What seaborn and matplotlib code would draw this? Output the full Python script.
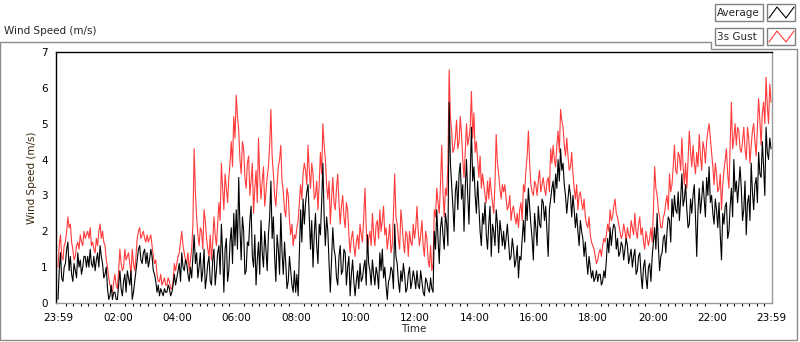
import numpy as np
import pandas as pd
import seaborn as sns
import matplotlib.pyplot as plt
from matplotlib.lines import Line2D
from matplotlib.patches import Rectangle

# valori: un campione ogni 5 minuti a partire dalle 23:59 (una riga = un'ora)
raffica = [
    1.0, 1.9, 1.2, 1.7, 2.4, 2.2, 1.5, 1.3, 1.7, 1.9, 1.6, 1.8,
    2.0, 2.1, 1.7, 1.4, 1.6, 2.2, 2.0, 1.6, 1.0, 0.5, 0.3, 0.8,
    0.4, 1.5, 0.9, 1.5, 1.3, 1.1, 1.5, 0.9, 1.8, 2.1, 1.9, 1.8,
    1.9, 1.8, 1.6, 1.1, 0.8, 0.6, 0.5, 0.7, 0.5, 0.6, 0.4, 1.1,
    1.1, 1.4, 2.0, 1.4, 1.1, 0.9, 1.5, 4.3, 2.4, 1.6, 2.0, 2.6,
    1.8, 1.3, 1.2, 2.4, 1.6, 2.8, 3.9, 2.6, 3.2, 3.5, 4.5, 5.2,
    5.8, 4.8, 3.6, 4.3, 3.2, 4.1, 3.4, 2.5, 3.7, 4.6, 2.9, 3.8,
    3.1, 3.8, 5.4, 3.6, 2.7, 3.8, 4.4, 3.1, 2.4, 3.0, 1.9, 1.6,
    1.8, 2.3, 3.3, 3.6, 3.7, 4.4, 3.2, 3.6, 3.0, 2.6, 4.2, 5.0,
    4.0, 2.9, 2.2, 3.5, 2.6, 3.6, 2.2, 3.0, 2.1, 2.6, 1.4, 2.0,
    1.3, 1.9, 2.2, 1.7, 3.2, 1.5, 2.0, 2.5, 1.6, 2.3, 2.6, 2.3,
    1.9, 1.5, 2.2, 1.6, 3.6, 2.2, 1.5, 2.2, 1.4, 1.9, 2.0, 1.6,
    1.8, 2.7, 1.6, 2.3, 1.3, 1.8, 1.0, 0.9, 2.6, 3.2, 2.5, 4.4,
    2.4, 3.0, 6.5, 4.8, 4.3, 5.1, 4.5, 4.7, 3.5, 5.0, 4.6, 5.9,
    5.3, 4.5, 3.5, 3.2, 3.3, 2.8, 2.9, 3.1, 2.5, 4.7, 3.6, 2.9,
    3.1, 2.9, 2.7, 2.3, 2.7, 2.2, 2.1, 2.8, 3.3, 3.7, 4.8, 3.3,
    3.0, 3.3, 3.4, 3.1, 3.5, 3.0, 3.5, 4.3, 4.4, 3.8, 4.8, 5.4,
    4.9, 4.1, 4.1, 3.8, 3.6, 2.9, 2.6, 3.1, 2.6, 2.4, 2.1, 1.9,
    1.6, 1.3, 1.2, 1.5, 1.6, 1.7, 2.2, 2.6, 2.4, 2.9, 2.4, 2.0,
    1.9, 2.0, 2.1, 1.8, 2.1, 2.5, 1.8, 2.4, 2.1, 1.5, 1.8, 1.8,
    1.7, 3.8, 3.0, 2.4, 2.1, 2.5, 3.0, 3.6, 3.3, 4.4, 3.6, 4.1,
    4.6, 3.3, 3.2, 4.8, 3.8, 3.9, 4.2, 4.7, 3.7, 4.3, 4.5, 5.0,
    4.2, 3.3, 3.6, 3.2, 2.6, 3.7, 4.3, 3.2, 5.6, 4.6, 4.4, 4.8,
    4.2, 4.9, 4.0, 4.6, 4.4, 5.0, 4.1, 5.7, 4.4, 5.6, 6.3, 5.0,
    5.6,
]

# campioni intermedi (2.5 minuti dopo ciascun campione sopra)
raffica_mezzo = [
    1.6, 1.3, 1.6, 2.0, 2.1, 1.7, 1.2, 1.6, 1.5, 1.7, 2.0, 1.9,
    1.8, 1.6, 1.5, 1.8, 2.0, 1.8, 1.7, 1.2, 0.7, 0.4, 0.6, 0.5,
    0.9, 1.1, 1.0, 1.2, 1.4, 0.8, 1.1, 1.3, 2.0, 1.8, 2.0, 1.7,
    1.7, 1.9, 1.3, 1.2, 0.6, 0.8, 0.6, 0.5, 0.7, 0.4, 0.6, 0.9,
    1.3, 1.7, 1.6, 1.2, 1.4, 1.2, 2.2, 3.1, 1.9, 2.1, 1.5, 2.3,
    1.5, 1.9, 1.7, 1.9, 2.2, 2.3, 3.2, 3.6, 2.8, 3.9, 3.8, 4.6,
    5.2, 4.0, 4.5, 3.5, 3.9, 3.0, 3.9, 3.2, 2.8, 3.5, 3.4, 2.7,
    3.5, 4.4, 4.1, 3.0, 3.3, 4.0, 3.4, 2.6, 3.2, 2.3, 2.2, 1.9,
    2.1, 2.8, 2.9, 3.9, 3.3, 3.7, 3.9, 2.9, 3.4, 3.3, 3.6, 4.4,
    3.3, 3.4, 2.9, 2.8, 3.2, 2.8, 2.7, 2.4, 2.8, 1.9, 1.8, 1.6,
    1.7, 1.5, 1.9, 2.4, 2.1, 1.8, 1.6, 1.9, 2.2, 1.8, 2.0, 2.7,
    2.1, 1.8, 1.4, 2.5, 2.4, 1.8, 2.6, 1.7, 2.0, 1.3, 1.7, 2.2,
    2.1, 2.0, 1.9, 1.6, 2.0, 1.2, 1.6, 1.1, 2.4, 2.8, 3.3, 3.1,
    3.2, 3.9, 5.2, 4.2, 4.6, 4.3, 5.2, 4.0, 4.2, 4.4, 4.9, 4.6,
    4.2, 4.0, 4.1, 3.6, 3.0, 3.4, 3.5, 2.8, 3.3, 3.9, 3.2, 3.3,
    3.3, 2.6, 3.0, 2.6, 2.4, 2.5, 2.6, 2.3, 3.1, 4.1, 3.9, 3.1,
    3.4, 3.0, 3.7, 3.3, 3.2, 3.4, 3.1, 3.9, 4.0, 4.4, 4.2, 5.1,
    4.4, 4.6, 3.7, 4.2, 3.2, 3.3, 3.0, 2.8, 2.9, 2.2, 2.4, 1.7,
    1.5, 1.1, 1.4, 1.3, 1.8, 1.9, 2.0, 2.3, 2.7, 2.5, 2.2, 1.8,
    2.2, 1.7, 1.9, 2.3, 1.9, 2.0, 2.2, 1.9, 1.7, 2.0, 1.6, 2.1,
    2.6, 3.2, 2.6, 2.1, 2.4, 2.8, 2.6, 3.1, 3.8, 3.7, 4.2, 3.7,
    3.8, 3.9, 4.0, 4.2, 4.4, 3.6, 3.8, 4.1, 4.5, 3.9, 4.8, 4.6,
    3.8, 3.9, 3.1, 3.6, 3.3, 4.0, 3.6, 4.4, 4.3, 5.0, 4.9, 4.3,
    4.5, 4.3, 4.9, 3.9, 4.8, 4.5, 4.9, 5.1, 5.3, 5.0, 5.5, 6.1,
]

media = [
    0.1, 1.4, 0.6, 1.1, 1.7, 1.3, 0.6, 0.9, 1.4, 1.2, 1.0, 1.3,
    1.3, 1.5, 1.0, 0.9, 1.4, 1.6, 1.1, 0.8, 0.4, 0.2, 0.1, 0.3,
    0.1, 0.9, 0.2, 0.8, 0.9, 0.5, 0.1, 0.6, 1.2, 1.6, 1.1, 1.5,
    1.4, 1.2, 1.3, 0.8, 0.3, 0.2, 0.3, 0.4, 0.3, 0.4, 0.3, 0.8,
    0.7, 1.1, 1.4, 0.9, 1.1, 0.6, 0.7, 1.9, 1.4, 1.0, 0.6, 1.5,
    0.7, 1.3, 0.5, 1.5, 0.9, 1.6, 2.2, 0.3, 1.8, 0.9, 2.1, 2.5,
    2.6, 3.5, 1.2, 2.0, 0.9, 1.6, 2.7, 1.0, 0.5, 1.7, 2.3, 1.0,
    1.5, 1.9, 3.4, 2.4, 0.6, 1.5, 2.5, 0.8, 1.1, 0.6, 0.9, 0.3,
    0.3, 0.2, 2.6, 2.9, 2.8, 3.3, 1.5, 1.0, 2.5, 1.1, 1.9, 3.9,
    1.6, 2.0, 0.3, 2.1, 1.3, 0.5, 1.6, 0.9, 1.4, 1.0, 0.2, 1.2,
    0.2, 0.9, 1.1, 0.7, 1.2, 1.9, 0.9, 1.2, 0.5, 0.8, 1.4, 1.5,
    1.0, 0.1, 0.7, 0.9, 2.2, 1.1, 0.3, 0.6, 0.8, 0.4, 1.0, 0.6,
    0.7, 0.9, 0.4, 0.6, 0.2, 0.6, 0.3, 0.4, 2.0, 2.6, 1.1, 2.4,
    1.5, 2.2, 5.6, 3.3, 2.0, 3.4, 3.6, 2.9, 2.0, 4.0, 2.2, 4.9,
    3.8, 2.5, 2.7, 1.6, 2.2, 1.9, 2.2, 1.3, 2.0, 2.6, 1.4, 2.0,
    2.0, 1.8, 1.7, 1.3, 1.5, 1.2, 0.7, 1.2, 2.3, 2.9, 3.2, 2.2,
    1.2, 2.1, 2.7, 2.1, 2.8, 2.7, 1.3, 2.9, 3.4, 3.6, 4.0, 4.3,
    3.9, 3.0, 2.9, 3.0, 3.0, 2.1, 2.0, 2.3, 1.8, 1.7, 0.8, 1.0,
    0.9, 0.7, 0.6, 0.8, 0.6, 0.7, 1.8, 2.1, 2.0, 2.1, 1.8, 1.4,
    1.6, 1.5, 1.6, 1.3, 1.0, 1.5, 0.9, 1.4, 0.4, 1.2, 0.4, 1.1,
    1.3, 2.1, 2.5, 0.9, 1.4, 1.9, 2.0, 2.3, 2.9, 3.0, 2.5, 2.3,
    3.6, 2.9, 2.6, 2.2, 2.5, 3.3, 1.3, 3.2, 2.9, 2.9, 3.5, 3.8,
    3.0, 2.2, 2.6, 2.8, 1.2, 2.2, 2.8, 2.0, 3.2, 4.0, 3.4, 3.3,
    3.2, 2.6, 1.9, 3.0, 3.9, 2.6, 3.5, 4.2, 3.5, 3.8, 4.9, 4.0,
    4.3,
]

media_mezzo = [
    0.9, 0.7, 1.0, 1.5, 0.9, 0.8, 1.1, 0.7, 1.0, 0.8, 1.3, 1.0,
    1.0, 1.1, 1.3, 1.2, 1.0, 1.3, 0.7, 1.0, 0.1, 0.5, 0.3, 0.1,
    0.5, 0.4, 0.6, 0.3, 0.7, 0.9, 0.3, 0.9, 1.5, 1.2, 1.4, 1.1,
    1.0, 1.5, 0.9, 0.6, 0.5, 0.4, 0.2, 0.3, 0.5, 0.2, 0.5, 0.5,
    0.9, 0.6, 1.0, 1.2, 0.8, 1.0, 1.3, 1.1, 0.7, 1.4, 0.9, 0.4,
    1.1, 0.6, 1.2, 0.5, 1.4, 0.8, 1.4, 1.5, 0.6, 1.7, 1.1, 1.6,
    1.5, 2.1, 2.4, 0.8, 1.7, 2.3, 1.3, 1.9, 1.2, 0.8, 1.4, 2.0,
    0.9, 2.4, 1.8, 1.3, 1.9, 0.8, 1.4, 1.7, 0.4, 1.3, 0.5, 0.9,
    0.8, 1.4, 1.7, 2.2, 3.1, 2.4, 2.3, 1.9, 1.6, 2.2, 2.8, 2.4,
    2.4, 1.1, 1.2, 1.5, 0.7, 1.3, 0.8, 1.5, 0.5, 1.3, 0.8, 0.6,
    0.6, 0.4, 0.6, 1.0, 0.5, 1.1, 0.5, 0.8, 1.0, 0.4, 0.9, 0.7,
    0.5, 0.6, 1.0, 0.4, 1.3, 0.6, 0.9, 1.1, 0.3, 0.8, 0.4, 0.9,
    0.4, 0.5, 0.9, 0.3, 0.7, 0.4, 0.7, 0.3, 1.5, 1.8, 2.1, 1.9,
    2.5, 1.6, 3.9, 2.7, 3.1, 2.6, 3.9, 3.3, 3.2, 3.0, 3.6, 3.4,
    3.0, 3.4, 2.0, 2.5, 2.8, 1.5, 2.7, 2.2, 1.6, 2.2, 2.3, 1.6,
    1.5, 2.2, 1.2, 1.8, 1.0, 1.6, 1.3, 1.8, 1.7, 2.3, 2.7, 1.8,
    2.5, 1.6, 2.2, 2.9, 2.3, 2.0, 2.6, 3.2, 2.8, 3.2, 3.4, 3.7,
    3.3, 2.5, 3.3, 2.4, 2.6, 2.5, 1.6, 2.0, 1.3, 1.2, 1.3, 0.7,
    0.6, 0.9, 0.8, 0.5, 0.9, 1.2, 1.4, 1.6, 2.2, 1.5, 1.3, 1.7,
    1.2, 1.8, 1.1, 1.5, 1.3, 0.8, 1.3, 0.8, 1.0, 0.7, 1.0, 0.6,
    1.7, 1.5, 1.6, 1.3, 1.8, 1.4, 2.4, 1.7, 2.4, 2.6, 3.1, 2.9,
    2.7, 3.3, 2.1, 2.9, 3.0, 2.4, 2.6, 2.5, 3.4, 2.4, 3.0, 2.8,
    2.5, 2.9, 2.1, 1.9, 2.5, 2.7, 1.8, 2.7, 2.4, 3.1, 2.8, 3.8,
    2.3, 3.4, 2.8, 2.3, 3.1, 3.3, 2.8, 3.6, 4.5, 3.0, 4.2, 4.6,
]

etichette_x = ['23:59', '02:00', '04:00', '06:00', '08:00', '10:00', '12:00',
               '14:00', '16:00', '18:00', '20:00', '22:00', '23:59']
pos_x = [0, 121, 241, 361, 481, 601, 721, 841, 961, 1081, 1201, 1321, 1440]

# unisco campioni principali e intermedi in un unico DataFrame ordinato per tempo
df = pd.concat([
    pd.DataFrame({'minuti': np.arange(len(media)) * 5.0,
                  'Average': media, '3s Gust': raffica}),
    pd.DataFrame({'minuti': np.arange(len(media_mezzo)) * 5.0 + 2.5,
                  'Average': media_mezzo, '3s Gust': raffica_mezzo}),
]).sort_values('minuti').reset_index(drop=True)

sns.set_style('white')
plt.rcParams['font.family'] = ['DejaVu Sans']
plt.rcParams['font.size'] = 7.5

W, H = 800, 342
fig = plt.figure(figsize=(W / 100, H / 100), dpi=100)
ax = fig.add_axes([56 / W, 1 - 303 / H, (772 - 56) / W, (303 - 52) / H])

sns.lineplot(data=df, x='minuti', y='3s Gust', color='#ff3b3b', lw=0.8, ax=ax)
sns.lineplot(data=df, x='minuti', y='Average', color='black', lw=0.8, ax=ax)

ax.set_xlim(-4, 1442)
ax.set_ylim(0, 7)
ax.set_xticks(pos_x)
ax.set_xticklabels(etichette_x)
ax.set_xticks(np.arange(16, 1440, 15), minor=True)
ax.set_yticks(range(8))
ax.tick_params(axis='both', which='major', direction='out', length=4, width=1,
               color='black', labelcolor='black', labelsize=7.5, pad=2)
ax.tick_params(axis='x', which='minor', direction='out', length=2.5, width=0.8,
               color='black', bottom=True)
ax.tick_params(axis='x', which='major', length=5)
ax.set_xlabel('Time', fontsize=7.5, labelpad=1)
ax.set_ylabel('Wind Speed (m/s)', fontsize=7.5, labelpad=3, color='#3a2a10')

for lato, col in [('left', 'black'), ('top', 'black'), ('right', '#9a9a9a'), ('bottom', '#9a9a9a')]:
    ax.spines[lato].set_visible(True)
    ax.spines[lato].set_color(col)
    ax.spines[lato].set_linewidth(1)

# cornice esterna grigia
px = lambda x: x / W
py = lambda y: 1 - y / H
cornice = [(0, 42), (711, 42), (711, 49), (797, 49), (797, 340), (0, 340), (0, 42)]
fig.add_artist(Line2D([px(a) for a, b in cornice], [py(b) for a, b in cornice],
                      color='#8c8c8c', lw=1))
fig.text(px(4), py(31), 'Wind Speed (m/s)', fontsize=7.5, va='center', ha='left')

# legenda in stile LabVIEW
for i, (nome, col) in enumerate([('Average', 'black'), ('3s Gust', '#ff3b3b')]):
    y0 = 4 + i * 24
    fig.add_artist(Rectangle((px(715), py(y0 + 17)), 48 / W, 17 / H, fill=False,
                             edgecolor='#808080', lw=1))
    fig.add_artist(Rectangle((px(767), py(y0 + 17)), 28 / W, 17 / H, fill=False,
                             edgecolor='#808080', lw=1))
    fig.text(px(717), py(y0 + 8.5), nome, fontsize=7.5, va='center', ha='left')
    zz = [(769, y0 + 14), (777, y0 + 3), (786, y0 + 14), (794, y0 + 3)]
    fig.add_artist(Line2D([px(a) for a, b in zz], [py(b) for a, b in zz], color=col, lw=0.8))

plt.savefig('out.png', dpi=100)
